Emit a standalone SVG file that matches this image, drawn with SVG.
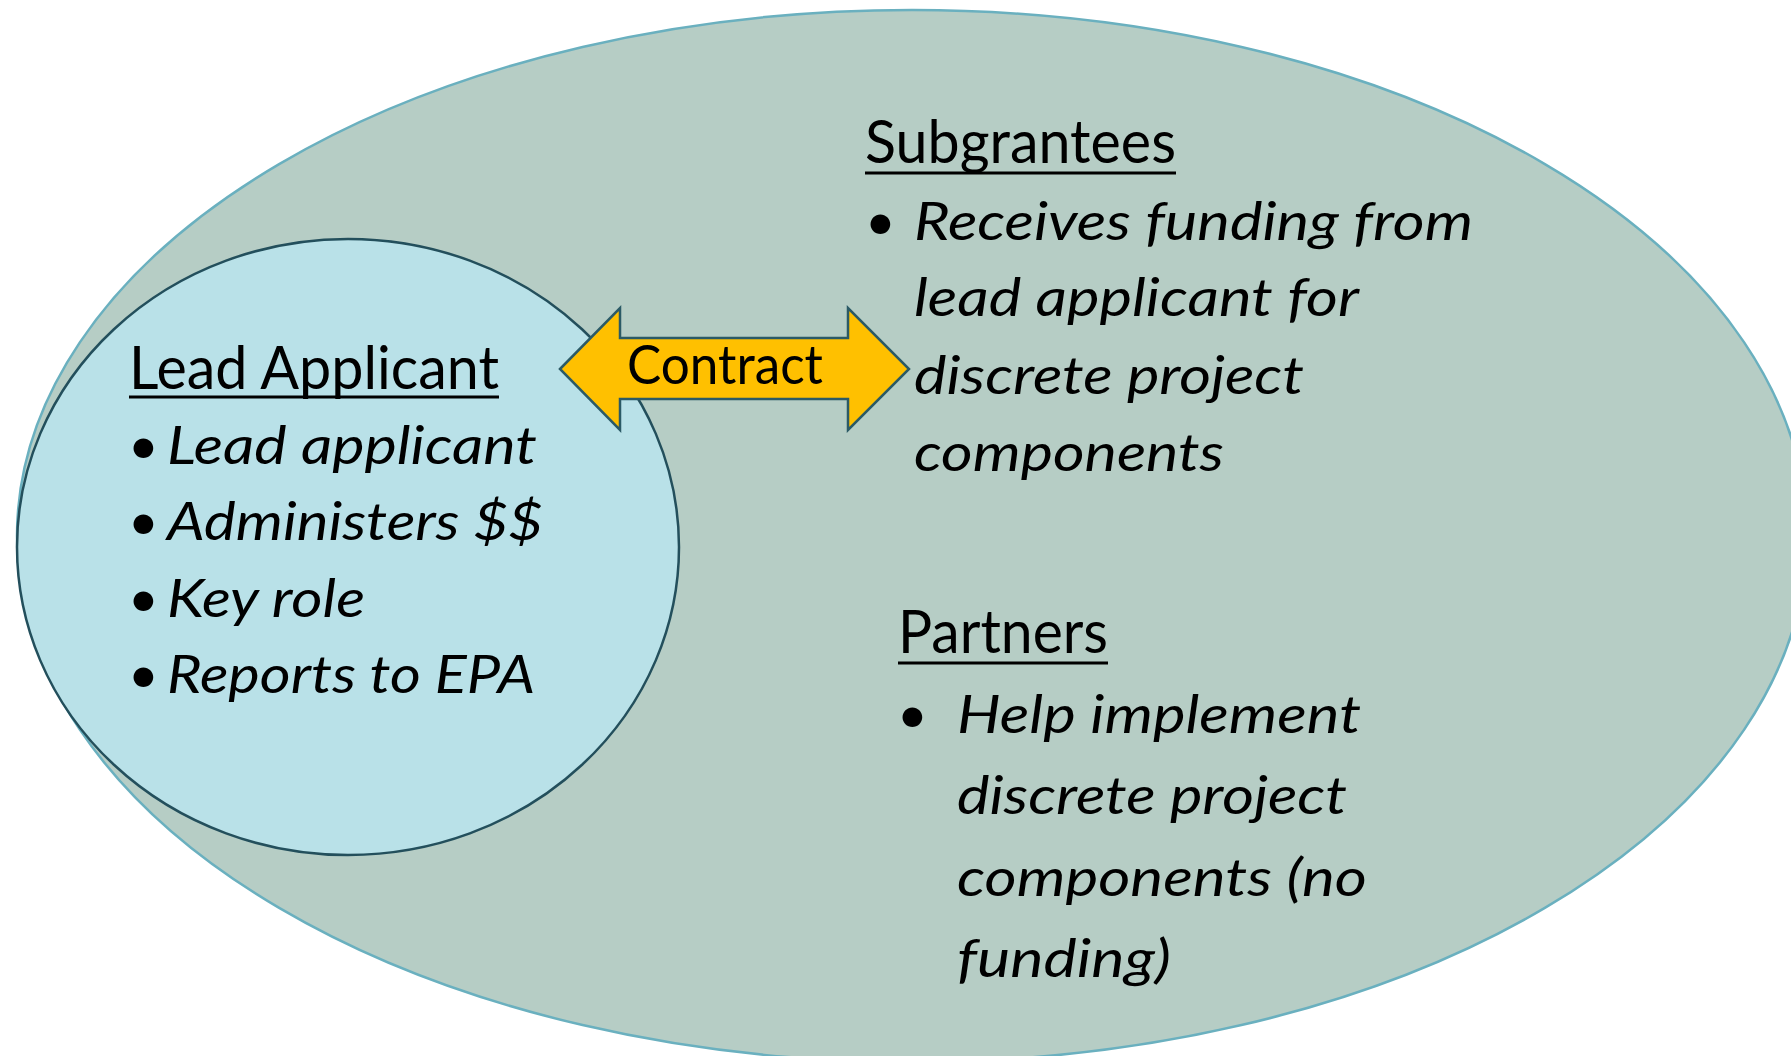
<svg xmlns="http://www.w3.org/2000/svg" width="1791" height="1056" viewBox="0 0 1791 1056">
  <style>
    .head { font-family: Lato, "Liberation Sans", sans-serif; font-size: 60px; fill: #000; }
    .item { font-family: Lato, "Liberation Sans", sans-serif; font-size: 53px; font-style: italic; fill: #000; }
    .bullet { font-family: Lato, "Liberation Sans", sans-serif; font-size: 53px; fill: #000; }
    .ul { stroke: #000; stroke-width: 3; }
    .label { font-family: Lato, "Liberation Sans", sans-serif; font-size: 54px; fill: #000; }
  </style>
  <rect width="1791" height="1056" fill="#ffffff"/>
  <g id="node-outer">
    <ellipse cx="912" cy="536" rx="895" ry="526" fill="#b6cdc5" stroke="#6ab0bf" stroke-width="2.5"/>
  </g>
  <g id="node-lead">
    <ellipse cx="348" cy="547" rx="331" ry="308" fill="#b9e1e8" stroke="#234f5c" stroke-width="2.5"/>
    <text class="head" x="129" y="389" textLength="370" lengthAdjust="spacingAndGlyphs">Lead Applicant</text>
    <line class="ul" x1="129" y1="397" x2="499" y2="397"/>
    <text class="bullet" x="128" y="464">•</text>
    <text class="item" x="167" y="464" textLength="370" lengthAdjust="spacingAndGlyphs">Lead applicant</text>
    <text class="bullet" x="128" y="540">•</text>
    <text class="item" x="167" y="540" textLength="376" lengthAdjust="spacingAndGlyphs">Administers $$</text>
    <text class="bullet" x="128" y="617">•</text>
    <text class="item" x="167" y="617" textLength="198" lengthAdjust="spacingAndGlyphs">Key role</text>
    <text class="bullet" x="128" y="693">•</text>
    <text class="item" x="167" y="693" textLength="368" lengthAdjust="spacingAndGlyphs">Reports to EPA</text>
  </g>
  <g id="node-subgrantees">
    <text class="head" x="865" y="163" textLength="311" lengthAdjust="spacingAndGlyphs">Subgrantees</text>
    <line class="ul" x1="865" y1="173" x2="1176" y2="173"/>
    <text class="bullet" x="865" y="240">•</text>
    <text class="item" x="914" y="240" textLength="559" lengthAdjust="spacingAndGlyphs">Receives funding from</text>
    <text class="item" x="914" y="316" textLength="445" lengthAdjust="spacingAndGlyphs">lead applicant for</text>
    <text class="item" x="914" y="394" textLength="390" lengthAdjust="spacingAndGlyphs">discrete project</text>
    <text class="item" x="914" y="471" textLength="310" lengthAdjust="spacingAndGlyphs">components</text>
  </g>
  <g id="node-partners">
    <text class="head" x="898" y="653" textLength="210" lengthAdjust="spacingAndGlyphs">Partners</text>
    <line class="ul" x1="898" y1="663" x2="1108" y2="663"/>
    <text class="bullet" x="897" y="733">•</text>
    <text class="item" x="957" y="733" textLength="404" lengthAdjust="spacingAndGlyphs">Help implement</text>
    <text class="item" x="957" y="814" textLength="390" lengthAdjust="spacingAndGlyphs">discrete project</text>
    <text class="item" x="957" y="896" textLength="410" lengthAdjust="spacingAndGlyphs">components (no</text>
    <text class="item" x="957" y="977" textLength="214" lengthAdjust="spacingAndGlyphs">funding)</text>
  </g>
  <g id="connectors">
    <polygon points="560,369 620,308 620,338 848,338 848,308 909,369 848,430 848,399 620,399 620,430" fill="#ffc000" stroke="#2b5a66" stroke-width="2.5" stroke-linejoin="miter"/>
    <text class="label" x="627" y="384" textLength="196" lengthAdjust="spacingAndGlyphs">Contract</text>
  </g>
</svg>
